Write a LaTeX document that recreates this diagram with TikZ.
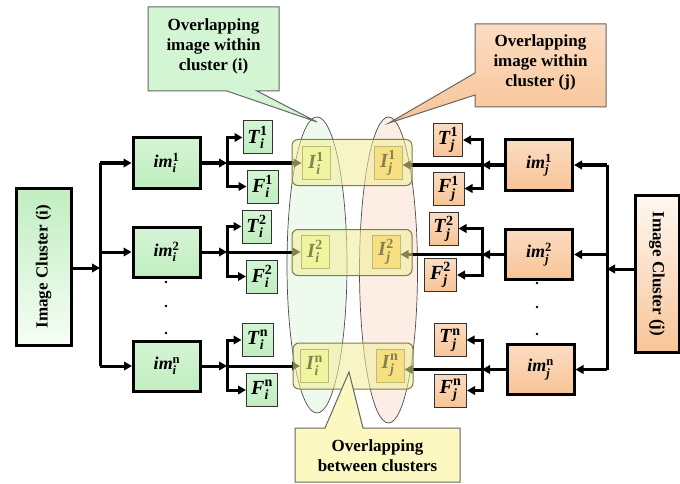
\documentclass[tikz,border=0pt]{standalone}
\usepackage{fontspec}
\setmainfont{Liberation Serif}
\usepackage{amsmath}
\usetikzlibrary{arrows.meta,shapes.geometric}
\newcommand\mlab[3]{\textbf{\textit{#1}}$^{\text{\bfseries #3}}_{\text{\bfseries\itshape #2}}$}
\definecolor{gA}{HTML}{D4F5D4}
\definecolor{gM}{HTML}{F6FEF6}
\definecolor{gB}{HTML}{C0EDC0}
\definecolor{oA}{HTML}{FBDCC2}
\definecolor{oM}{HTML}{FFF8F2}
\definecolor{oB}{HTML}{F8C497}
\definecolor{yel}{HTML}{F2EE98}
\definecolor{yelB}{HTML}{7E7C48}
\definecolor{calY}{HTML}{FBF8C2}
\definecolor{ellG}{HTML}{EEFAEE}
\definecolor{ellO}{HTML}{FCEEE4}
\definecolor{bd}{HTML}{333333}
\begin{document}
\begin{tikzpicture}[x=1pt,y=-1pt,
  conn/.style={line width=3pt,-{Triangle[length=8pt,width=8.5pt]}},
  bus/.style={line width=3pt},
  bigbox/.style={draw=black,line width=3pt,minimum width=67pt,minimum height=50pt,inner sep=0pt,font=\fontsize{18}{20}\selectfont},
  gshade/.style={top color=gA,middle color=gM,bottom color=gB},
  oshade/.style={top color=oA,middle color=oM,bottom color=oB},
  smallbox/.style={draw=bd,line width=1pt,minimum width=29pt,minimum height=33pt,inner sep=0pt,font=\fontsize{20}{22}\selectfont},
  innerI/.style={draw=yelB,line width=1pt,minimum width=28pt,minimum height=33pt,inner sep=0pt,font=\fontsize{20}{22}\selectfont},
  yrow/.style={draw=yelB,line width=1pt,rounded corners=6pt,fill=yel,fill opacity=0.55,minimum width=120pt,minimum height=46pt},
  cluster/.style={draw=black,line width=3pt,minimum width=157pt,inner sep=0pt,font=\bfseries\fontsize{17}{20}\selectfont},
  ctext/.style={align=center,font=\bfseries\fontsize{17}{20}\selectfont,inner sep=0pt},
  callout/.style={draw=black!60,line width=1pt},
  dot/.style={circle,fill=black,inner sep=0pt,minimum size=2.8pt},
  ell/.style={ellipse,draw=black!70,line width=0.7pt,inner sep=0pt}
]
\fill[white] (0,0) rectangle (680,484);
\useasboundingbox (0,0) rectangle (680,484);

% ellipses
\node[ell,fill=ellG,minimum width=60pt,minimum height=296pt] (eG) at (317,265) {};
\node[ell,fill=ellO,minimum width=58pt,minimum height=306pt] (eO) at (388.5,270) {};

% cluster boxes
\node[cluster,rotate=90,minimum height=55pt,top color=gB,bottom color=gM] (clI) at (43.5,266.5) {Image Cluster (i)};
\node[cluster,rotate=-90,minimum height=44pt,top color=oM,bottom color=oB] (clJ) at (657,274) {Image Cluster (j)};

% im boxes
\node[bigbox,gshade] (imI1) at (166.5,163) {\mlab{im}{i}{1}};
\node[bigbox,gshade] (imI2) at (166.5,252) {\mlab{im}{i}{2}};
\node[bigbox,gshade] (imIn) at (167,366) {\mlab{im}{i}{n}};
\node[bigbox,oshade] (imJ1) at (539,165) {\mlab{im}{j}{1}};
\node[bigbox,oshade] (imJ2) at (539,254.5) {\mlab{im}{j}{2}};
\node[bigbox,oshade] (imJn) at (540.5,369.5) {\mlab{im}{j}{n}};

% T / F boxes
\node[smallbox,gshade] (TI1) at (257.5,137.5) {\mlab{T}{i}{1}};
\node[smallbox,gshade,minimum width=31pt] (FI1) at (262.5,186.5) {\mlab{F}{i}{1}};
\node[smallbox,gshade] (TI2) at (256.5,226.5) {\mlab{T}{i}{2}};
\node[smallbox,gshade,minimum width=31pt] (FI2) at (262,276.5) {\mlab{F}{i}{2}};
\node[smallbox,gshade,minimum width=31pt] (TIn) at (257.5,340) {\mlab{T}{i}{n}};
\node[smallbox,gshade,minimum width=31pt] (FIn) at (262,390) {\mlab{F}{i}{n}};
\node[smallbox,oshade] (TJ1) at (448,140) {\mlab{T}{j}{1}};
\node[smallbox,oshade,minimum width=31pt] (FJ1) at (448.5,188.5) {\mlab{F}{j}{1}};
\node[smallbox,oshade] (TJ2) at (443.5,228.5) {\mlab{T}{j}{2}};
\node[smallbox,oshade,minimum width=32pt] (FJ2) at (440.5,275) {\mlab{F}{j}{2}};
\node[smallbox,oshade,minimum width=32pt] (TJn) at (450,340) {\mlab{T}{j}{n}};
\node[smallbox,oshade,minimum width=32pt] (FJn) at (450.5,390.5) {\mlab{F}{j}{n}};

% dots
\node[dot] (dL1) at (166,282) {};
\node[dot] (dL2) at (166,306) {};
\node[dot] (dL3) at (166,333) {};
\node[dot] (dR1) at (537,283) {};
\node[dot] (dR2) at (537,307) {};
\node[dot] (dR3) at (537,334) {};

% inner I boxes
\node[innerI,fill=green!25!yellow!35] (Ii1) at (316,163) {\mlab{I}{i}{1}};
\node[innerI,fill=orange!60!yellow!60] (Ij1) at (388,163) {\mlab{I}{j}{1}};
\node[innerI,fill=green!25!yellow!35] (Ii2) at (315,251.5) {\mlab{I}{i}{2}};
\node[innerI,fill=orange!60!yellow!60] (Ij2) at (386,251.5) {\mlab{I}{j}{2}};
\node[innerI,fill=green!25!yellow!35] (Iin) at (314.5,365.5) {\mlab{I}{i}{n}};
\node[innerI,fill=orange!60!yellow!60] (Ijn) at (390,365.5) {\mlab{I}{j}{n}};

% connectors left
\coordinate (bLt) at (100,163);
\coordinate (bLm) at (100,252);
\coordinate (bLb) at (100,366);
\coordinate (bLc) at (100,268);
\draw[bus] (bLt) -- (bLb);
\draw[conn] (clI.south |- bLc) -- (bLc);
\draw[conn] (bLt) -- (imI1.west);
\draw[conn] (bLm) -- (imI2.west);
\draw[conn] (bLb) -- (imIn.west);
\coordinate (jL1) at (227,163);
\coordinate (jL2) at (227,252);
\coordinate (jLn) at (227,366);
\foreach \k in {1,2,n}{
  \draw[conn] (imI\k.east) -- (jL\k);
  \draw[conn] (jL\k) -- (Ii\k.west |- jL\k);
  \draw[conn] (jL\k) |- (TI\k.west);
  \draw[conn] (jL\k) |- (FI\k.west);
}
% connectors right
\coordinate (bRt) at (607,165);
\coordinate (bRm) at (607,254.5);
\coordinate (bRb) at (607,369.5);
\coordinate (bRc) at (607,269);
\draw[bus] (bRt) -- (bRb);
\draw[conn] (clJ.south |- bRc) -- (bRc);
\draw[conn] (bRt) -- (imJ1.east);
\draw[conn] (bRm) -- (imJ2.east);
\draw[conn] (bRb) -- (imJn.east);
\coordinate (jR1) at (482,165);
\coordinate (jR2) at (482,254.5);
\coordinate (jRn) at (482,369.5);
\foreach \k in {1,2,n}{
  \draw[conn] (imJ\k.west) -- (jR\k);
  \draw[conn] (jR\k) -- (Ij\k.east |- jR\k);
  \draw[conn] (jR\k) |- (TJ\k.east);
  \draw[conn] (jR\k) |- (FJ\k.east);
}

% yellow overlays
\node[yrow] (Y1) at (352,162.5) {};
\node[yrow] (Y2) at (352,252.5) {};
\node[yrow] (Yn) at (353,366) {};

% callouts
\coordinate (tipG) at (317,122);
\coordinate (tipO) at (389,123);
\coordinate (tipY) at (349,372);
\path[callout,top color=gA,middle color=gM!50!gA,bottom color=gA]
  (148,7) -- (279,7) -- (279,91) -- (257,91) -- (tipG) -- (227,91) -- (148,91) -- cycle;
\node[ctext] (cG) at (213.5,46) {Overlapping\\image within\\cluster (i)};
\path[callout,top color=oA,middle color=oM,bottom color=oB]
  (475,24) -- (606,24) -- (606,107) -- (475,107) -- (475,95) -- (tipO) -- (475,73) -- cycle;
\node[ctext] (cO) at (540.5,62) {Overlapping\\image within\\cluster (j)};
\path[callout,fill=calY]
  (295,428) -- (325,428) -- (tipY) -- (363,428) -- (460,428) -- (460,482) -- (295,482) -- cycle;
\node[ctext] (cY) at (377.5,456) {Overlapping\\between clusters};
\end{tikzpicture}
\end{document}
